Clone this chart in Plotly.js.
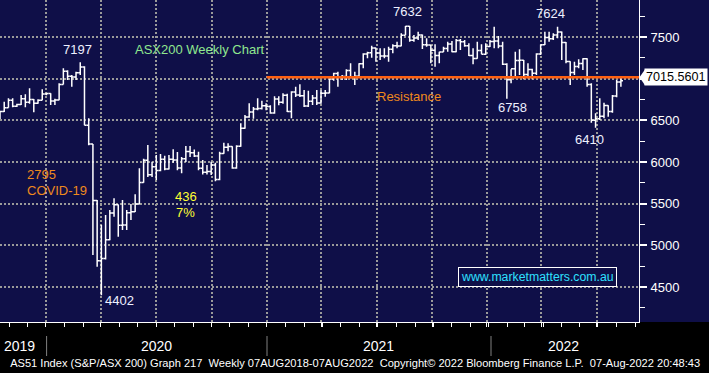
<!DOCTYPE html>
<html><head><meta charset="utf-8">
<script src="https://cdn.plot.ly/plotly-3.0.1.min.js"></script>
<style>html,body{margin:0;padding:0;background:#000;} #chart{width:709px;height:373px;}</style>
</head><body><div id="chart"></div>
<script>
// Weekly bars, Fridays from 2019-10-11 to 2022-08-05 (148 weeks)
const firstWeek = '2019-10-11';
const openPx = [
6530,6606,6651,6740,6670,6690,6760,6717,6750,6706,6740,6816,
6821,6733,6744,6930,7090,7030,7020,7070,7139,6441,6216,5539,4816,4842,5067,5388,5487,5242,5245,5391,5404,5497,5755,6020,5847,5942,5898,6033,5915,6032,6024,5928,6040,6127,6111,6073,5926,5878,5885,5964,5791,6102,6176,6185,5927,6190,6405,6539,6601,6635,6643,6675,
6665,6587,6757,6716,6800,6607,6841,6805,6794,6673,6730,6767,6708,6824,6829,6995,7063,7016,7025,7097,7014,7030,7179,7295,7312,7369,7308,7271,7272,7352,7395,7392,7522,7629,7460,7488,7523,7406,7403,7342,7277,7320,7363,7415,7324,7457,7443,7396,7279,7241,7339,7293,7387,
7445,7453,7393,7173,6988,7120,7217,7221,7049,7111,7064,7295,7406,7493,7479,7523,7560,7435,7206,7075,7146,7182,7238,6931,6500,6520,6548,6677,6606,6791,6960];
const highPx = [
6612,6724,6764,6764,6700,6804,6812,6884,6755,6752,6872,6830,
6824,6760,6944,7124,7100,7044,7084,7197,7150,6524,6216,5544,5244,5364,5424,5564,5490,5544,5424,5496,5612,5924,6040,6204,6004,6084,6096,6076,6084,6152,6120,6060,6192,6192,6150,6124,6024,5964,6004,5990,6124,6232,6224,6190,6200,6464,6564,6704,6660,6764,6736,6704,
6680,6790,6790,6824,6820,6850,6904,6932,6864,6856,6804,6864,6864,6864,7000,7072,7084,7044,7112,7184,7084,7184,7304,7324,7396,7372,7364,7364,7384,7412,7444,7544,7632,7632,7524,7564,7530,7484,7404,7412,7324,7384,7444,7452,7476,7476,7464,7424,7364,7444,7412,7424,7464,
7624,7512,7444,7184,7112,7324,7352,7224,7184,7120,7304,7410,7564,7564,7544,7624,7565,7440,7210,7204,7232,7245,7245,6944,6584,6764,6712,6680,6804,6984,7004];
const lowPx = [
6516,6600,6650,6656,6660,6684,6656,6700,6596,6700,6740,6800,
6684,6684,6740,6930,6984,6904,6984,7044,6440,6200,4884,4744,4402,4830,5060,5344,5104,5184,5184,5304,5400,5490,5750,5820,5820,5784,5890,5900,5910,5990,5900,5864,6000,6060,6060,5900,5850,5850,5844,5770,5780,6100,6130,5920,5920,6184,6400,6530,6520,6620,6630,6620,
6580,6580,6680,6700,6600,6524,6780,6780,6660,6660,6684,6684,6700,6784,6824,6976,6904,6984,6984,7004,6924,7024,7124,7244,7252,7204,7224,7244,7204,7304,7364,7390,7520,7444,7444,7464,7356,7384,7184,7144,7184,7320,7324,7316,7316,7344,7384,7272,7172,7240,7292,7284,7380,
7364,7364,7164,6758,6944,7004,7044,6992,7004,6992,7044,7284,7404,7444,7464,7484,7224,7184,6924,7044,7124,7104,6904,6470,6410,6504,6524,6544,6592,6776,6904];
const closePx = [
6606,6651,6740,6670,6690,6760,6717,6750,6706,6740,6816,6821,
6733,6744,6930,7090,7030,7020,7070,7139,6441,6216,5539,4816,4842,5067,5388,5487,5242,5245,5391,5404,5497,5755,6020,5847,5942,5898,6033,5915,6032,6024,5928,6040,6127,6111,6073,5926,5878,5885,5964,5791,6102,6176,6185,5927,6190,6405,6539,6601,6635,6643,6675,6665,
6587,6757,6716,6800,6607,6841,6805,6794,6673,6730,6767,6708,6824,6829,6995,7063,7016,7025,7097,7014,7030,7179,7295,7312,7369,7308,7271,7272,7352,7395,7392,7522,7629,7460,7488,7523,7406,7403,7342,7277,7320,7363,7415,7324,7457,7443,7396,7279,7241,7339,7293,7387,7445,
7453,7393,7173,6988,7120,7217,7221,7049,7111,7064,7295,7406,7493,7479,7523,7560,7435,7206,7075,7146,7182,7238,6931,6500,6520,6548,6677,6606,6791,6960,6974];

const resistanceLevel = 7015.5601;
const resistanceStart = '2020-12-26';
const yTickVals = [4500, 5000, 5500, 6000, 6500, 7000, 7500];
const yTickText = ['4500', '5000', '5500', '6000', '6500', '', '7500'];
const yearLabels = ['2019','2020','2021','2022'];
const footerText = 'AS51 Index (S&P/ASX 200) Graph 217  Weekly 07AUG2018-07AUG2022  Copyright\u00a9 2022 Bloomberg Finance L.P.  07-Aug-2022 20:48:43';

const weekDates = openPx.map((_, i) => {
  const d = new Date(Date.parse(firstWeek + 'T00:00:00Z') + i * 7 * 86400000);
  return d.toISOString().slice(0, 10);
});

const NAVY = '#0f0f48';
const FONT = 'Liberation Sans, Arial, sans-serif';
const xEnd = '2022-09-04';

const trace = {
  type: 'ohlc', x: weekDates, open: openPx, high: highPx, low: lowPx, close: closePx,
  increasing: {line: {color: '#ffffff', width: 1.5}},
  decreasing: {line: {color: '#ffffff', width: 1.5}},
  tickwidth: 0.5, hoverinfo: 'skip'
};

function txt(text, x, y, color, anchor, size) {
  return {text: text, x: x, y: y, xref: 'paper', yref: 'paper', showarrow: false,
    xanchor: anchor || 'center', yanchor: 'middle', font: {family: FONT, size: size || 13, color: color}};
}
const W = 639, H = 322;
const px = v => v / W, py = v => (H - v) / H;
const LBL = '#eef0ff';

const annotations = [
  txt('7197', px(77), py(49), LBL),
  txt('ASX200 Weekly Chart', px(199), py(49), '#8fe88f'),
  txt('7632', px(407), py(12), LBL),
  txt('7624', px(550), py(13), LBL),
  txt('Resistance', px(409), py(96), '#f08a1c'),
  txt('6758', px(512), py(108), LBL),
  txt('6410', px(589), py(139), LBL),
  txt('2795', px(25), py(174), '#f08a1c', 'left'),
  txt('COVID-19', px(25), py(190.5), '#f08a1c', 'left'),
  txt('436', px(173), py(196.5), '#ffff33', 'left'),
  txt('7%', px(174), py(212), '#ffff33', 'left'),
  txt('4402', px(119), py(300), LBL),
  Object.assign(txt('www.marketmatters.com.au', px(537), py(276.5), '#2ee0ff', 'center', 12.3),
    {bordercolor: '#ffffff', borderwidth: 1, borderpad: 2, bgcolor: NAVY}),
  {text: resistanceLevel.toFixed(4), x: px(644), y: resistanceLevel, xref: 'paper', yref: 'y',
   showarrow: false, xanchor: 'left', yanchor: 'middle', bgcolor: '#ffffff', borderpad: 1,
   font: {family: FONT, size: 12.6, color: '#000000'}},
  {text: footerText, x: px(354.5), y: py(363), xref: 'paper', yref: 'paper', showarrow: false,
   xanchor: 'center', yanchor: 'middle', borderpad: 0, font: {family: FONT, size: 11.2, color: '#ffffff'}}
];
const yearX = [19, 156, 378, 563];
yearLabels.forEach((t, i) => annotations.push({text: t, x: px(yearX[i]), y: py(346), xref: 'paper', yref: 'paper',
  showarrow: false, xanchor: 'center', yanchor: 'middle', font: {family: FONT, size: 14, color: '#ffffff'}}));

const shapes = [
  {type: 'rect', xref: 'paper', yref: 'paper', x0: -0.05, x1: 1.2, y0: -0.3, y1: 0, fillcolor: '#000000', line: {width: 0}, layer: 'below'},
  {type: 'line', xref: 'x', yref: 'y', x0: resistanceStart, x1: xEnd, y0: resistanceLevel, y1: resistanceLevel,
   line: {color: '#ff6010', width: 2.5}},
  {type: 'path', xref: 'paper', yref: 'y', path: `M ${px(639.5)},${resistanceLevel} L ${px(645)},${resistanceLevel + 95} L ${px(645)},${resistanceLevel - 95} Z`,
   fillcolor: '#ffffff', line: {width: 0}}
];
[46.6, 267, 491].forEach(v => shapes.push({type: 'line', xref: 'paper', yref: 'paper', x0: px(v), x1: px(v),
  y0: py(336), y1: py(356), line: {color: '#808080', width: 1}}));

const grid = {gridcolor: '#9a9a9a', gridwidth: 2, griddash: '2px,2px'};
const layout = {
  width: 709, height: 373, margin: {l: 0, r: 70, t: 0, b: 51, pad: 0},
  paper_bgcolor: NAVY, plot_bgcolor: NAVY, showlegend: false,
  xaxis: Object.assign({type: 'date', range: [firstWeek, xEnd], rangeslider: {visible: false},
    showgrid: true, tick0: '2019-12-26', dtick: 'M3', ticks: 'outside', ticklen: 4, tickwidth: 1, tickcolor: '#ffffff',
    showticklabels: false, showline: true, linecolor: '#ffffff', linewidth: 1, zeroline: false, fixedrange: true,
    minor: {dtick: 'M1', tick0: '2019-12-26', ticks: 'outside', ticklen: 4, tickwidth: 1, tickcolor: '#ffffff', showgrid: false}}, grid),
  yaxis: Object.assign({side: 'right', range: [4080, 7944], tickmode: 'array', tickvals: yTickVals, ticktext: yTickText,
    showgrid: true, ticks: 'outside', ticklen: 7, tickwidth: 2, tickcolor: '#ffffff', showline: true, linecolor: '#ffffff', linewidth: 1,
    tickfont: {family: FONT, size: 13, color: '#ffffff'}, zeroline: false, automargin: false, fixedrange: true,
    ticklabelstandoff: 1,
    minor: {dtick: 250, tick0: 0, ticks: 'outside', ticklen: 5, tickwidth: 1, tickcolor: '#ffffff', showgrid: false}}, grid),
  shapes: shapes, annotations: annotations
};
Plotly.newPlot('chart', [trace], layout, {staticPlot: true, displayModeBar: false}).then(() => {
  document.querySelectorAll('.annotation-text').forEach(t => {
    if (t.textContent.indexOf('AS51') === 0) {
      t.setAttribute('textLength', '690');
      t.setAttribute('lengthAdjust', 'spacingAndGlyphs');
    }
  });
});
</script></body></html>
